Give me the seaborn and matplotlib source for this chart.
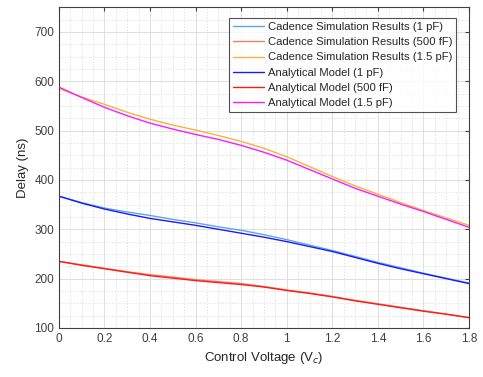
import numpy as np
import pandas as pd
import matplotlib
matplotlib.use('Agg')
import matplotlib.pyplot as plt
import seaborn as sns

# data (every 0.1 V)
vc = [0, 0.1, 0.2, 0.3, 0.4, 0.5, 0.6, 0.7, 0.8, 0.9, 1.0, 1.1, 1.2, 1.3, 1.4, 1.5, 1.6, 1.7, 1.8]
sim_1p = [367, 354, 343, 335, 328, 320, 313, 305, 298, 289, 279, 268, 257, 245, 233, 222, 211, 201, 191]
sim_500f = [235, 228, 221, 214, 208, 203, 198, 194, 190, 184, 177, 171, 164, 156, 149, 142, 135, 128, 121]
sim_1p5 = [585, 568, 553, 537, 523, 511, 501, 490, 478, 464, 447, 427, 407, 388, 371, 354, 338, 323, 308]
model_1p = [367, 353, 341, 331, 322, 315, 308, 300, 292, 284, 275, 265, 255, 243, 231, 220, 210, 200, 190]
model_500f = [235, 227, 220, 213, 206, 201, 196, 192, 188, 183, 176, 170, 163, 155, 148, 141, 134, 128, 121]
model_1p5 = [588, 567, 547, 530, 515, 503, 492, 482, 470, 456, 440, 421, 402, 383, 367, 351, 336, 320, 304]

labels = ['Cadence Simulation Results (1 pF)', 'Cadence Simulation Results (500 fF)',
          'Cadence Simulation Results (1.5 pF)', 'Analytical Model (1 pF)',
          'Analytical Model (500 fF)', 'Analytical Model (1.5 pF)']
series = [sim_1p, sim_500f, sim_1p5, model_1p, model_500f, model_1p5]
colors = ['#62a6de', '#f2825e', '#f2b53a', '#1a1aff', '#ff1a1a', '#ff1aff']

sns.set_style('white')
plt.rcParams['font.family'] = ['Liberation Sans', 'DejaVu Sans']

fig = plt.figure(figsize=(4.83, 3.77), dpi=100)
ax = fig.add_axes([0.122, 0.130, 0.849, 0.851])

for lab, vals, col in zip(labels, series, colors):
    df = pd.DataFrame({'vc': vc, 'delay': vals})
    sns.lineplot(data=df, x='vc', y='delay', ax=ax, label=lab, color=col, linewidth=1.0)

ax.set_xlim(0, 1.8)
ax.set_ylim(100, 750)
ax.set_xticks(np.arange(0, 1.81, 0.2))
ax.set_xticklabels(['0', '0.2', '0.4', '0.6', '0.8', '1', '1.2', '1.4', '1.6', '1.8'])
ax.set_yticks(range(100, 701, 100))
ax.set_xticks(np.arange(0, 1.81, 0.05), minor=True)
ax.set_yticks(range(100, 751, 25), minor=True)
ax.grid(which='major', color='#dedede', linewidth=0.7, linestyle='-')
ax.grid(which='minor', color='#dcdcdc', linewidth=0.6, linestyle=(0, (1.5, 2)))
ax.set_axisbelow(True)
ax.tick_params(which='both', direction='in', colors='#404040', labelsize=8.5, top=True, right=True)
ax.tick_params(which='minor', length=0)
ax.tick_params(which='major', length=3)
for s in ax.spines.values():
    s.set_color('#404040')
    s.set_linewidth(0.8)

ax.set_xlabel('Control Voltage (V$_c$)', fontsize=9.5, color='#262626')
ax.set_ylabel('Delay (ns)', fontsize=9.5, color='#262626')

leg = ax.legend(loc='upper right', bbox_to_anchor=(0.975, 0.972), fontsize=8.1, frameon=True,
                fancybox=False, edgecolor='#262626', handlelength=2.7, handletextpad=0.4,
                labelspacing=0.45, borderpad=0.35, borderaxespad=0.2)
leg.get_frame().set_linewidth(0.8)

plt.savefig('out.png', dpi=100)
